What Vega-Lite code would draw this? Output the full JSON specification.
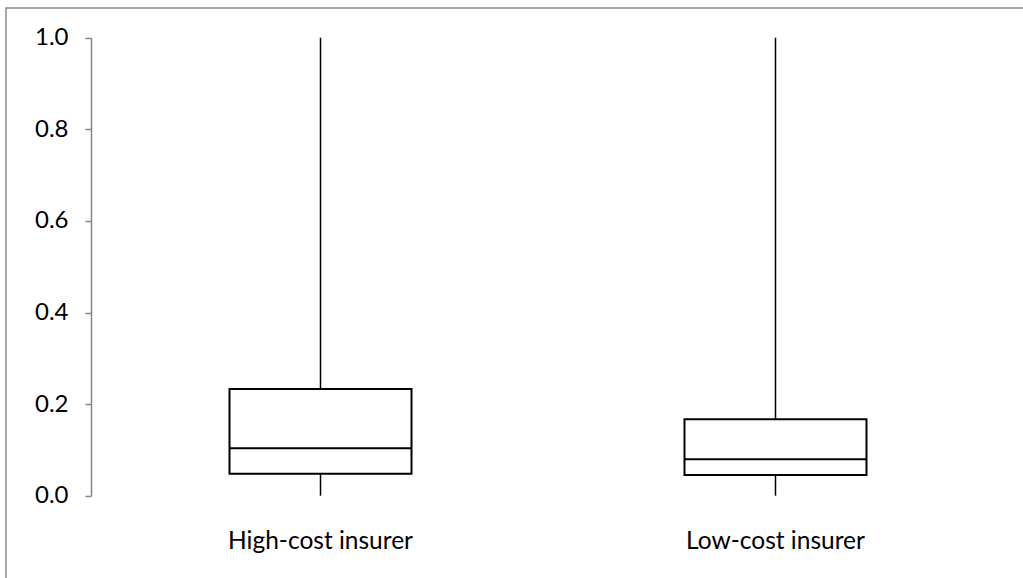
{
  "$schema": "https://vega.github.io/schema/vega-lite/v6.json",
  "autosize": {"type": "none"},
  "padding": {"left": 6, "top": 8, "right": -13, "bottom": -10},
  "width": 1030,
  "height": 580,
  "background": "white",
  "data": {
    "values": [
      {"insurer": "High-cost insurer", "min": 0.0, "q1": 0.048, "median": 0.1035, "q3": 0.233, "max": 1.0},
      {"insurer": "Low-cost insurer", "min": 0.0, "q1": 0.045, "median": 0.0795, "q3": 0.167, "max": 1.0}
    ]
  },
  "encoding": {
    "x": {
      "field": "insurer",
      "type": "nominal",
      "sort": null,
      "scale": {"paddingInner": 0, "paddingOuter": 0.13187, "align": 0.725},
      "axis": {
        "title": null,
        "orient": "bottom",
        "domain": false,
        "ticks": false,
        "tickSize": 0,
        "labelPadding": 0,
        "labelBaseline": "alphabetic",
        "labelAngle": 0,
        "labelLimit": 0,
        "offset": -40,
        "labelFont": "Lato",
        "labelFontSize": 24.5,
        "labelColor": "#000000"
      }
    }
  },
  "layer": [
    {
      "mark": {"type": "rule", "color": "#000000", "strokeWidth": 1.5},
      "encoding": {
        "y": {
          "field": "min",
          "type": "quantitative",
          "scale": {"domain": [-0.20153, 1.06485], "nice": false, "zero": false},
          "axis": {
            "title": null,
            "values": [0, 0.2, 0.4, 0.6, 0.8, 1.0],
            "format": ".1f",
            "grid": false,
            "offset": -85,
            "tickSize": 6,
            "tickWidth": 1.5,
            "tickColor": "#868686",
            "domainColor": "#868686",
            "domainWidth": 1.5,
            "domainDash": [458, 122],
            "domainDashOffset": 487.7,
            "labelPadding": 17,
            "labelFont": "Lato",
            "labelFontSize": 24,
            "labelColor": "#000000"
          }
        },
        "y2": {"field": "q1"}
      }
    },
    {
      "mark": {"type": "rule", "color": "#000000", "strokeWidth": 1.5},
      "encoding": {
        "y": {"field": "q3", "type": "quantitative"},
        "y2": {"field": "max"}
      }
    },
    {
      "mark": {"type": "bar", "fill": "white", "stroke": "#000000", "strokeWidth": 2, "width": {"band": 0.4}},
      "encoding": {
        "y": {"field": "q1", "type": "quantitative"},
        "y2": {"field": "q3"}
      }
    },
    {
      "mark": {"type": "tick", "color": "#000000", "thickness": 2, "size": 182, "orient": "horizontal", "opacity": 1},
      "encoding": {
        "y": {"field": "median", "type": "quantitative"}
      }
    }
  ],
  "config": {
    "view": {"stroke": "#8c8c8c", "strokeWidth": 1.5}
  }
}
